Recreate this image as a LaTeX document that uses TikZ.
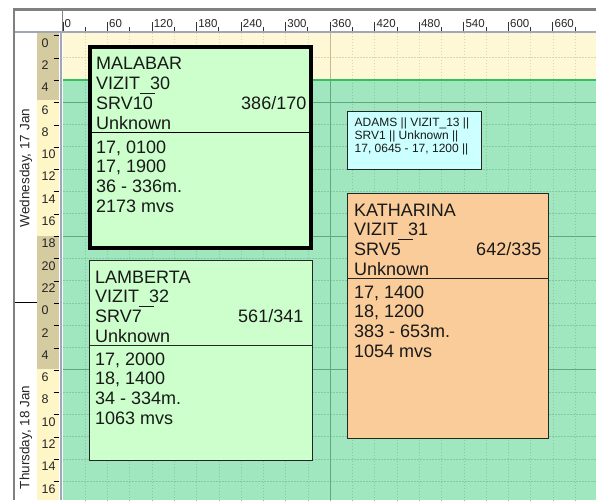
\documentclass[tikz,border=0pt]{standalone}
\usepackage{fontspec}
\setmainfont{Liberation Sans}
\definecolor{cream}{HTML}{FFF8D6}
\definecolor{bggreen}{HTML}{A0E6BE}
\definecolor{boxgreen}{HTML}{CCFFCC}
\definecolor{peach}{HTML}{F9CC99}
\definecolor{cyanbox}{HTML}{CCFFFF}
\definecolor{khaki}{HTML}{D4CBA0}
\definecolor{rulyellow}{HTML}{FFF6C8}
\definecolor{dotgreen}{HTML}{84C8A2}
\definecolor{solidgreen}{HTML}{5FA880}
\definecolor{brightgreen}{HTML}{33C060}
\definecolor{dottan}{HTML}{E0D4AA}
\definecolor{soltan}{HTML}{C8B88C}
\definecolor{framegray}{HTML}{808080}
\definecolor{rulline}{HTML}{A0A8B8}
\newcommand\lowus{\makebox[0.556em][l]{\raisebox{-4.5pt}{\rule{0.8em}{1.2pt}}}}
\begin{document}
\begin{tikzpicture}[x=1pt,y=-1pt,
  txt/.style={inner sep=0pt, anchor=base west, font=\fontsize{18}{20}\selectfont, text=black!90},
  ratio/.style={txt, anchor=base east},
  small/.style={inner sep=0pt, anchor=base west, font=\fontsize{12}{13}\selectfont, text=black!90},
  rul/.style={inner sep=0pt, anchor=base west, font=\fontsize{11.5}{12}\selectfont, text=black!85},
  hrul/.style={inner sep=0pt, anchor=base west, font=\fontsize{12.5}{13}\selectfont, text=black!85},
  daylbl/.style={inner sep=0pt, rotate=90, font=\fontsize{13.5}{14}\selectfont, text=black!85},
  dotg/.style={dotgreen, line width=0.8pt, dash pattern=on 1.5pt off 1.5pt},
  dott/.style={dottan, line width=0.8pt, dash pattern=on 1.5pt off 1.5pt},
  boxline/.style={draw=black!85, line width=1pt}
]
\useasboundingbox (0,0) rectangle (596,500);
\fill[white] (0,0) rectangle (596,500);
% grid area
\begin{scope}
\clip (63,33) rectangle (596,500);
\fill[cream] (63,33) rectangle (596,79.9);
\fill[bggreen] (63,79.9) rectangle (596,500);
\foreach \u in {30,60,...,720} {
  \draw[dott] ({63+0.7424*\u},33) -- ({63+0.7424*\u},79.9);
  \draw[dotg] ({63+0.7424*\u},79.9) -- ({63+0.7424*\u},500);
}
\draw[dott] (63,57.6) -- (596,57.6);
\foreach \h in {8,10,12,14,16,20,22,24,26,28,32,34,36,38,40} {
  \draw[dotg] (63,{35.3+11.15*\h}) -- (596,{35.3+11.15*\h});
}
\foreach \h in {6,18,30} {
  \draw[solidgreen, line width=1pt] (63,{35.3+11.15*\h}) -- (596,{35.3+11.15*\h});
}
\draw[soltan, line width=1pt] (330.3,33) -- (330.3,79.9);
\draw[solidgreen, line width=1pt] (330.3,79.9) -- (330.3,500);
\draw[brightgreen, line width=1.6pt] (63,79.9) -- (596,79.9);
\end{scope}
% left ruler
\fill[white] (15,33) rectangle (37,500);
\fill[khaki] (37,33) rectangle (59,{35.3+11.15*6-2});
\fill[rulyellow] (37,{35.3+11.15*6-2}) rectangle (59,{35.3+11.15*18});
\fill[khaki] (37,{35.3+11.15*18}) rectangle (59,{35.3+11.15*30-1});
\fill[rulyellow] (37,{35.3+11.15*30-1}) rectangle (59,500);
\foreach \h in {0,2,...,40} {
  \pgfmathtruncatemacro\lab{mod(\h,24)}
  \draw[black, line width=1pt] (53.5,{35.3+11.15*\h+0.5}) -- (58.5,{35.3+11.15*\h+0.5});
  \node[hrul] (hl\h) at (41.5,{35.3+11.15*\h+11.8}) {\lab};
}
\draw[rulline, line width=2.4pt] (60.8,10) -- (60.8,500);
\draw[black, line width=1pt] (15,302.9) -- (37,302.9);
\node[daylbl] (day1) at (26,168) {Wednesday, 17 Jan};
\node[daylbl] (day2) at (26,437.5) {Thursday, 18 Jan};
% top ruler
\fill[white] (15,10) rectangle (596,31);
\foreach \u in {0,60,...,660} {
  \draw[black!80, line width=1pt] ({63+0.7424*\u},22) -- ({63+0.7424*\u},31);
  \draw[black!80, line width=1pt] ({63+0.7424*(\u+30)},27) -- ({63+0.7424*(\u+30)},31);
  \node[rul] (tl\u) at ({64.5+0.7424*\u},28) {\u};
}
\draw[rulline, line width=2.2pt] (15,32) -- (596,32);
\draw[framegray, line width=1.2pt] (62.3,10) -- (62.3,31);
% outer frame
\draw[framegray, line width=2.6pt] (12.7,9.3) -- (596,9.3);
\draw[framegray, line width=2.2pt] (14,8) -- (14,500);
% MALABAR
\draw[fill=boxgreen, draw=black, line width=4pt] (90,47) rectangle (311,248);
\draw[black, line width=1pt] (90,132.7) -- (311,132.7);
\node[txt] (m1) at (96,70) {MALABAR};
\node[txt] (m2) at (96,89.8) {VIZIT\lowus30};
\node[txt] (m3) at (96,109.6) {SRV10};
\node[ratio] (m3r) at (306.5,109.6) {386/170};
\node[txt] (m4) at (96,129.4) {Unknown};
\node[txt] (m5) at (96,153) {17, 0100};
\node[txt] (m6) at (96,172.8) {17, 1900};
\node[txt] (m7) at (96,192.6) {36 - 336m.};
\node[txt] (m8) at (96,212.4) {2173 mvs};
% LAMBERTA
\draw[fill=boxgreen, boxline] (89,260) rectangle (312,460);
\draw[black!85, line width=1pt] (89,345.5) -- (312,345.5);
\node[txt] (l1) at (95,283) {LAMBERTA};
\node[txt] (l2) at (95,302.8) {VIZIT\lowus32};
\node[txt] (l3) at (95,322.6) {SRV7};
\node[ratio] (l3r) at (303.5,322.6) {561/341};
\node[txt] (l4) at (95,342.4) {Unknown};
\node[txt] (l5) at (95,365) {17, 2000};
\node[txt] (l6) at (95,384.8) {18, 1400};
\node[txt] (l7) at (95,404.6) {34 - 334m.};
\node[txt] (l8) at (95,424.4) {1063 mvs};
% KATHARINA
\draw[fill=peach, boxline] (347.5,193) rectangle (548,438);
\draw[black!85, line width=1pt] (347.5,278) -- (548,278);
\node[txt] (k1) at (354,216) {KATHARINA};
\node[txt] (k2) at (354,235.8) {VIZIT\lowus31};
\node[txt] (k3) at (354,255.6) {SRV5};
\node[ratio] (k3r) at (541.5,255.6) {642/335};
\node[txt] (k4) at (354,275.4) {Unknown};
\node[txt] (k5) at (354,298) {17, 1400};
\node[txt] (k6) at (354,317.8) {18, 1200};
\node[txt] (k7) at (354,337.6) {383 - 653m.};
\node[txt] (k8) at (354,357.4) {1054 mvs};
% ADAMS
\draw[fill=cyanbox, boxline] (347.5,111.5) rectangle (481.5,169);
\node[small] (a1) at (354.5,126) {ADAMS || VIZIT\_13 ||};
\node[small] (a2) at (354.5,139.3) {SRV1 || Unknown ||};
\node[small] (a3) at (354.5,152.6) {17, 0645 - 17, 1200 ||};
\end{tikzpicture}
\end{document}
